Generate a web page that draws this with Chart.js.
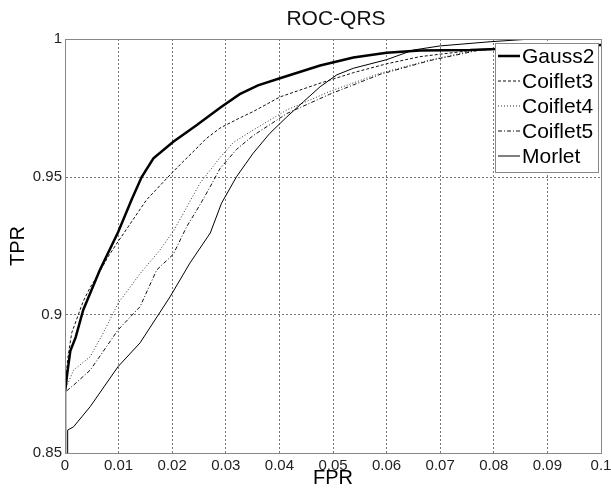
<!DOCTYPE html>
<html>
<head>
<meta charset="utf-8">
<script src="https://cdn.jsdelivr.net/npm/chart.js@4/dist/chart.umd.min.js"></script>
<style>
  body { margin: 0; background: #fff; }
  #wrap { width: 611px; height: 491px; }
</style>
</head>
<body>
<div id="wrap"><canvas id="roc" width="611" height="491"></canvas></div>
<script>
// [FPR, TPR] pairs
const gauss2 = [
  [0, 0.85], [0, 0.872], [0.0005, 0.880], [0.001, 0.887], [0.002, 0.892],
  [0.0034, 0.9018], [0.0065, 0.9163], [0.0099, 0.930], [0.0124, 0.9417],
  [0.0143, 0.950], [0.0165, 0.9568], [0.0202, 0.9628], [0.0246, 0.9688],
  [0.029, 0.9752], [0.0326, 0.9800], [0.036, 0.9832], [0.0401, 0.9858],
  [0.0476, 0.9904], [0.0538, 0.9933], [0.060, 0.995], [0.0662, 0.9958],
  [0.0756, 0.996], [0.0793, 0.9963], [0.09, 0.997], [0.1, 0.9978]
];
const coiflet3 = [
  [0, 0.85], [0, 0.872], [0.0005, 0.884], [0.00125, 0.8935], [0.0034, 0.905],
  [0.0047, 0.910], [0.006, 0.914], [0.008, 0.921], [0.0099, 0.9266],
  [0.0125, 0.934], [0.0152, 0.9417], [0.0202, 0.952], [0.0264, 0.964],
  [0.0289, 0.9677], [0.0326, 0.9714], [0.0351, 0.9737], [0.0401, 0.979],
  [0.0476, 0.984], [0.0538, 0.9878], [0.060, 0.991], [0.0662, 0.9936],
  [0.0756, 0.9958], [0.085, 0.997], [0.1, 0.998]
];
const coiflet4 = [
  [0, 0.85], [0, 0.8728], [0.0016, 0.880], [0.0047, 0.8849], [0.007, 0.893],
  [0.0099, 0.9042], [0.014, 0.915], [0.0175, 0.923], [0.0202, 0.9303],
  [0.0227, 0.939], [0.0252, 0.9478], [0.0289, 0.957], [0.0314, 0.9625],
  [0.0351, 0.967], [0.0414, 0.9743], [0.0494, 0.981], [0.0588, 0.9876],
  [0.0681, 0.9924], [0.0774, 0.9963], [0.09, 0.997], [0.1, 0.998]
];
const coiflet5 = [
  [0, 0.85], [0, 0.872], [0.0016, 0.8746], [0.0047, 0.880], [0.0099, 0.8946],
  [0.014, 0.903], [0.0171, 0.9163], [0.0202, 0.922], [0.0227, 0.932],
  [0.0252, 0.940], [0.0271, 0.9465], [0.0289, 0.9530], [0.032, 0.9600],
  [0.0351, 0.9650], [0.0414, 0.973], [0.0494, 0.980], [0.0588, 0.9872],
  [0.0681, 0.9922], [0.0774, 0.996], [0.09, 0.997], [0.1, 0.998]
];
const morlet = [
  [0.0005, 0.85], [0.0005, 0.8583], [0.0016, 0.8595], [0.0047, 0.8668],
  [0.0099, 0.8813], [0.014, 0.8899], [0.0196, 0.9066], [0.0233, 0.9188],
  [0.0271, 0.9297], [0.0292, 0.9405], [0.032, 0.9501], [0.0351, 0.9586],
  [0.0382, 0.9658], [0.0414, 0.9718], [0.0445, 0.9773], [0.0476, 0.9827],
  [0.0507, 0.987], [0.0538, 0.9894], [0.060, 0.9925], [0.065, 0.996],
  [0.07, 0.9975], [0.0793, 0.999], [0.087, 1], [0.1, 1]
];
const seriesNames = ['Gauss2', 'Coiflet3', 'Coiflet4', 'Coiflet5', 'Morlet'];
const xTicks = [0, 0.01, 0.02, 0.03, 0.04, 0.05, 0.06, 0.07, 0.08, 0.09, 0.1];
const yTicks = [0.85, 0.9, 0.95, 1];

const FONT = 'Arial, "Liberation Sans", sans-serif';
const toPts = arr => arr.map(p => ({ x: p[0], y: p[1] }));

const styles = [
  { width: 2.5, dash: [], color: '#000' },
  { width: 1, dash: [3, 2], color: '#111' },
  { width: 1, dash: [1, 2], color: '#333' },
  { width: 1, dash: [4, 2, 1, 2], color: '#111' },
  { width: 1, dash: [], color: '#000' }
];
const allData = [gauss2, coiflet3, coiflet4, coiflet5, morlet];

const datasets = allData.map((d, i) => ({
  label: seriesNames[i],
  data: toPts(d),
  borderColor: styles[i].color,
  borderWidth: styles[i].width,
  borderDash: styles[i].dash,
  pointRadius: 0,
  tension: 0,
  fill: false
}));

// title, box frame and the boxed legend like matlab
const decor = {
  id: 'decor',
  afterDraw(chart) {
    const ctx = chart.ctx, a = chart.chartArea;
    ctx.save();
    ctx.strokeStyle = '#888';
    ctx.lineWidth = 1;
    ctx.setLineDash([]);
    ctx.strokeRect(a.left + 0.5, a.top + 0.5, a.right - a.left, a.bottom - a.top);

    ctx.fillStyle = '#111';
    ctx.font = '21px ' + FONT;
    ctx.textAlign = 'center';
    ctx.textBaseline = 'middle';
    ctx.fillText('ROC-QRS', (a.left + a.right) / 2 + 3, 19);

    // legend
    const lx = 495, ly = 43, lw = 103, lh = 129;
    ctx.fillStyle = '#fff';
    ctx.fillRect(lx, ly, lw, lh);
    ctx.strokeStyle = '#888';
    ctx.strokeRect(lx + 0.5, ly + 0.5, lw, lh);
    ctx.font = '21px ' + FONT;
    ctx.textAlign = 'left';
    chart.data.datasets.forEach((ds, i) => {
      const y = 56 + i * 25;
      ctx.strokeStyle = ds.borderColor;
      ctx.lineWidth = ds.borderWidth;
      ctx.setLineDash(ds.borderDash);
      ctx.beginPath();
      ctx.moveTo(498, y);
      ctx.lineTo(520, y);
      ctx.stroke();
      ctx.fillStyle = '#000';
      ctx.fillText(ds.label, 522, y + 1);
    });
    ctx.restore();
  }
};

new Chart(document.getElementById('roc'), {
  type: 'line',
  data: { datasets: datasets },
  plugins: [decor],
  options: {
    responsive: false,
    animation: false,
    layout: { padding: { left: 0, right: 10, top: 39, bottom: 0 } },
    plugins: { legend: { display: false }, tooltip: { enabled: false } },
    scales: {
      x: {
        type: 'linear',
        min: 0,
        max: 0.1,
        afterBuildTicks: s => { s.ticks = xTicks.map(v => ({ value: v })); },
        afterFit: s => { s.height = 38; s.paddingRight = 0; s.paddingLeft = 0; },
        ticks: {
          padding: 4,
          color: '#222',
          font: { family: FONT, size: 15 },
          maxRotation: 0,
          callback: v => String(parseFloat(v.toFixed(2)))
        },
        grid: { color: '#777', drawTicks: false, lineWidth: 1 },
        border: { color: '#888', dash: [2, 2] },
        title: {
          display: true,
          text: 'FPR',
          color: '#000',
          font: { family: FONT, size: 20 },
          padding: { top: 0, bottom: 1 }
        }
      },
      y: {
        type: 'linear',
        min: 0.85,
        max: 1,
        afterBuildTicks: s => { s.ticks = yTicks.map(v => ({ value: v })); },
        afterFit: s => { s.width = 65; },
        ticks: {
          padding: 3,
          color: '#222',
          font: { family: FONT, size: 15 },
          callback: v => String(parseFloat(v.toFixed(2)))
        },
        grid: { color: '#777', drawTicks: false, lineWidth: 1 },
        border: { color: '#888', dash: [2, 2] },
        title: {
          display: true,
          text: 'TPR',
          color: '#000',
          font: { family: FONT, size: 20 },
          padding: { top: 6, bottom: 0 }
        }
      }
    }
  }
});
</script>
</body>
</html>
